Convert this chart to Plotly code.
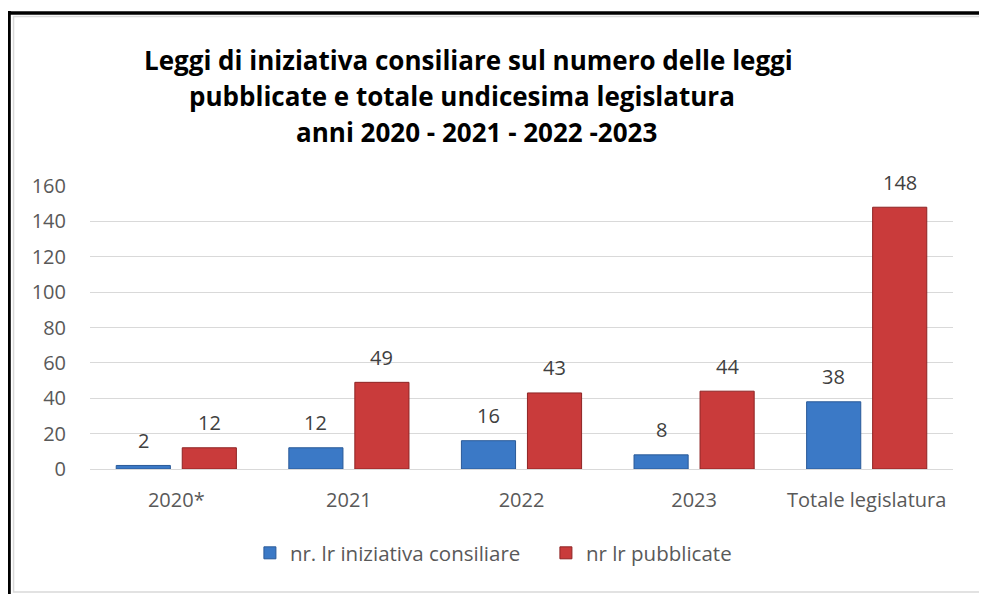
import plotly.graph_objects as go

# ---- data ----
categories = ["2020*", "2021", "2022", "2023", "Totale legislatura"]
iniziativa_consiliare = [2, 12, 16, 8, 38]
lr_pubblicate = [12, 49, 43, 44, 148]
series_names = ["nr. lr iniziativa consiliare", "nr lr pubblicate"]
y_ticks = [0, 20, 40, 60, 80, 100, 120, 140, 160]
title_lines = [
    "Leggi di iniziativa consiliare sul numero delle leggi",
    "pubblicate e totale undicesima legislatura",
    "anni 2020 - 2021 - 2022 -2023",
]

# page has an 8px body margin: figure drawn 8px right/down of the viewport origin
OFF = 8
W, H = 987 - OFF, 594 - OFF
PLOT_L, PLOT_R, PLOT_T, PLOT_B = 90, 953.5, 186, 469  # in screenshot pixels
L = PLOT_L - OFF
R = W - (PLOT_R - OFF)
T = PLOT_T - OFF
B = H - (PLOT_B - OFF)
PW, PH = PLOT_R - PLOT_L, PLOT_B - PLOT_T


def px_x(px):
    return (px - PLOT_L) / PW


def px_y(py):
    return (PLOT_B - py) / PH


FONT = "Open Sans"
BLUE, BLUE_EDGE = "#3B79C6", "#2A5A98"
RED, RED_EDGE = "#C93B3B", "#8E2424"

fig = go.Figure()
fig.add_trace(go.Bar(x=categories, y=iniziativa_consiliare, name=series_names[0],
                     marker=dict(color=BLUE, line=dict(color=BLUE_EDGE, width=1))))
fig.add_trace(go.Bar(x=categories, y=lr_pubblicate, name=series_names[1],
                     marker=dict(color=RED, line=dict(color=RED_EDGE, width=1))))

annotations = []
for vals, shift in ((iniziativa_consiliare, -33), (lr_pubblicate, 33)):
    for i, v in enumerate(vals):
        annotations.append(dict(x=i, y=v, xref="x", yref="y", text=str(v), showarrow=False,
                                xshift=shift, yshift=25, yanchor="middle",
                                font=dict(family=FONT, size=20, color="#404040")))

title_centers = [(469, 60), (462, 96), (477, 132)]
for line, (cx, cy) in zip(title_lines, title_centers):
    annotations.append(dict(x=px_x(cx), y=px_y(cy), xref="paper", yref="paper", text="<b>%s</b>" % line,
                            showarrow=False, xanchor="center", yanchor="middle",
                            font=dict(family=FONT, size=26, color="#000000")))

shapes = [
    dict(type="rect", xref="paper", yref="paper", x0=px_x(13.5), x1=px_x(982), y0=px_y(16.5), y1=px_y(592),
         line=dict(color="#D9D9D9", width=1.5), fillcolor="rgba(0,0,0,0)", layer="below"),
    dict(type="line", xref="paper", yref="paper", x0=px_x(9), x1=px_x(9), y0=px_y(11), y1=px_y(600),
         line=dict(color="#000000", width=3.5)),
    dict(type="line", xref="paper", yref="paper", x0=px_x(7), x1=px_x(990), y0=px_y(13), y1=px_y(13),
         line=dict(color="#000000", width=3.5)),
]

fig.update_layout(
    width=W, height=H,
    margin=dict(l=L, r=R, t=T, b=B, pad=0),
    paper_bgcolor="white", plot_bgcolor="white",
    barmode="group", bargap=0.235, bargroupgap=0.18,
    showlegend=True,
    legend=dict(orientation="h", x=px_x(250), y=px_y(553), xanchor="left", yanchor="middle",
                entrywidth=251, entrywidthmode="pixels",
                font=dict(family=FONT, size=20.5, color="#595959"), traceorder="normal"),
    annotations=annotations,
    shapes=shapes,
    xaxis=dict(type="category", range=[-0.5, len(categories) - 0.5], showgrid=False, showline=True,
               linecolor="#D9D9D9", linewidth=1.2, ticks="",
               tickfont=dict(family=FONT, size=20, color="#595959"), ticklabelstandoff=13),
    yaxis=dict(range=[0, 160], tickvals=y_ticks, showgrid=True, gridcolor="#D9D9D9", gridwidth=1.2,
               zeroline=False, showline=False, ticks="",
               tickfont=dict(family=FONT, size=20, color="#595959"), ticklabelstandoff=23),
)

fig.write_html("out.html")
